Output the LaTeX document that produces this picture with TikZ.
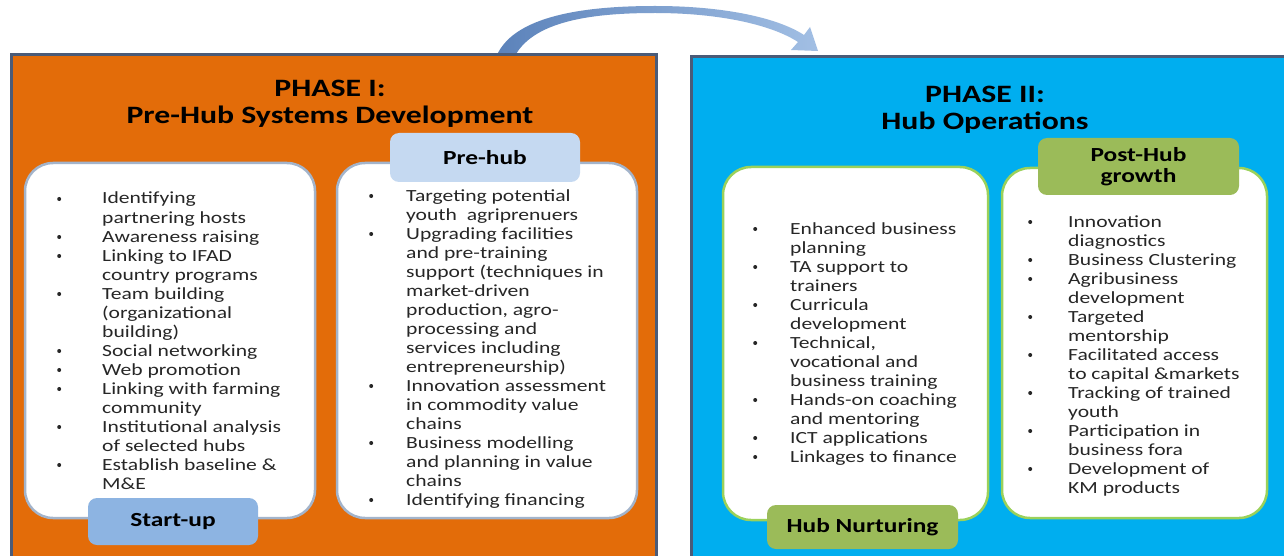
\documentclass[tikz,border=0pt]{standalone}
\usepackage{fontspec}
\setmainfont{Carlito}[FakeStretch=1.27]
\definecolor{phaseorange}{HTML}{E36C09}
\definecolor{phaseblue}{HTML}{00AEEF}
\definecolor{frame}{HTML}{4A5B78}
\definecolor{cardgrey}{HTML}{A3B4CB}
\definecolor{cardgreen}{HTML}{9BD15A}
\definecolor{tabblue}{HTML}{8DB4E2}
\definecolor{tablight}{HTML}{C5D9F1}
\definecolor{tabolive}{HTML}{9BBB59}
\definecolor{ink}{HTML}{262626}
\definecolor{arrowA}{HTML}{5B82BA}
\definecolor{arrowB}{HTML}{A2BFE4}

% one line per node: b = 1 puts a bullet in front of the line
\newcommand\bulletlist[5]{%
  \foreach [count=\k] \b/\t in {#5} {%
    \node[item] (#1-\k) at (#3, {#4+(\k-1)*19}) {\t};
    \ifnum\b=1 \node[dot] (#1-b\k) at (#2, {#4+(\k-1)*19-5}) {};\fi
  }%
}

\begin{document}
\begin{tikzpicture}[x=1pt,y=-1pt,
  phase/.style={draw=frame, line width=3pt, inner sep=0, anchor=north west},
  card/.style={fill=white, line width=2.5pt, rounded corners=28pt},
  tabbox/.style={rounded corners=9pt, inner sep=0, text=black,
    font=\bfseries\fontsize{20}{21}\selectfont, align=center},
  item/.style={anchor=base west, inner sep=0, text=ink,
    font=\fontsize{17}{19}\selectfont},
  dot/.style={circle, fill=ink, inner sep=0, minimum size=4pt, anchor=west},
  head/.style={anchor=base, inner sep=0, text=black,
    font=\bfseries\fontsize{25}{27}\selectfont}]

\useasboundingbox (0,0) rectangle (1284,556);
\clip (0,0) rectangle (1284,556);
\fill[white] (0,0) rectangle (1284,556);

% curved arrow leading from phase I to phase II
\coordinate (arrowtail) at (504,60);
\coordinate (arrowtip) at (818,51);
\shade[left color=arrowA, right color=arrowB]
  (495,60) .. controls (510,14) and (590,6) .. (655,6)
  .. controls (725,6) and (778,18) .. (804,35)
  -- (810,27) -- (arrowtip) -- (791,50) -- (798,42)
  .. controls (772,25) and (720,13) .. (655,13)
  .. controls (595,13) and (530,20) .. (513,60) -- cycle;

% the two phases
\node[phase, fill=phaseorange, minimum width=645pt, minimum height=560pt] (phaseI) at (10,53) {};
\node[phase, fill=phaseblue, minimum width=700pt, minimum height=560pt] (phaseII) at (690,55) {};

\node[head] (titleIa) at (330,97) {PHASE I:};
\node[head] (titleIb) at (330,124) {Pre-Hub Systems Development};
\node[head] (titleIIa) at (985,103) {PHASE II:};
\node[head] (titleIIb) at (985,130) {Hub Operations};

% cards
\draw[card, draw=cardgrey] (25,163) rectangle (315,518);
\draw[card, draw=cardgrey] (337,163) rectangle (637,518);
\draw[card, draw=cardgreen] (723,167) rectangle (988,520);
\draw[card, draw=cardgreen] (1002,168) rectangle (1267,518);

% tabs
\node[tabbox, fill=tabblue, minimum width=170pt, minimum height=47pt] (startup) at (173,521.5) {Start-up};
\node[tabbox, fill=tablight, minimum width=190pt, minimum height=49pt] (prehub) at (485,157.5) {Pre-hub};
\node[tabbox, fill=tabolive, minimum width=191pt, minimum height=44pt] (nurture) at (862.5,527) {Hub Nurturing};
\node[tabbox, fill=tabolive, minimum width=201pt, minimum height=57pt] (posthub) at (1138.5,166.5) {Post-Hub\\growth};

% lists
\bulletlist{su}{57}{102}{204}{1/{Identifying}, 0/{partnering hosts}, 1/{Awareness raising},
  1/{Linking to IFAD}, 0/{country programs}, 1/{Team building}, 0/{(organizational},
  0/{building)}, 1/{Social networking}, 1/{Web promotion}, 1/{Linking with farming},
  0/{community}, 1/{Institutional analysis}, 0/{of selected hubs},
  1/{Establish baseline \&}, 0/{M\&E}}

\bulletlist{ph}{369}{406}{201}{1/{Targeting potential}, 0/{youth\ \ agriprenuers},
  1/{Upgrading facilities}, 0/{and pre-training}, 0/{support (techniques in},
  0/{market-driven}, 0/{production, agro-}, 0/{processing and},
  0/{services including}, 0/{entrepreneurship)}, 1/{Innovation assessment},
  0/{in commodity value}, 0/{chains}, 1/{Business modelling},
  0/{and planning in value}, 0/{chains}, 1/{Identifying financing}}

\bulletlist{hn}{753}{790}{234}{1/{Enhanced business}, 0/{planning}, 1/{TA support to},
  0/{trainers}, 1/{Curricula}, 0/{development}, 1/{Technical,}, 0/{vocational and},
  0/{business training}, 1/{Hands-on coaching}, 0/{and mentoring},
  1/{ICT applications}, 1/{Linkages to finance}}

\bulletlist{pg}{1028}{1068}{227}{1/{Innovation}, 0/{diagnostics}, 1/{Business Clustering},
  1/{Agribusiness}, 0/{development}, 1/{Targeted}, 0/{mentorship},
  1/{Facilitated access}, 0/{to capital \&markets}, 1/{Tracking of trained},
  0/{youth}, 1/{Participation in}, 0/{business fora}, 1/{Development of},
  0/{KM products}}

\end{tikzpicture}
\end{document}
